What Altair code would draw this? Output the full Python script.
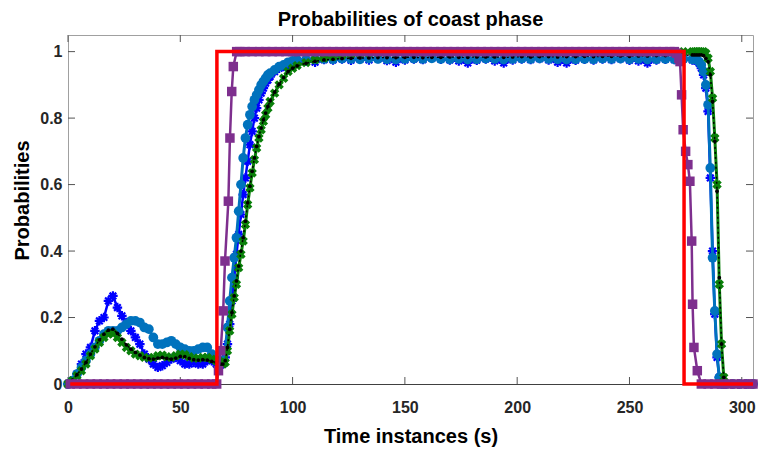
import altair as alt
import pandas as pd

# ---------------- data ----------------
TIME = [0, 2, 4, 6, 8, 10, 12, 14, 16, 18, 20, 22, 24, 26, 28, 30, 32, 34, 36, 38,
        40, 42, 44, 46, 48, 50, 52, 54, 56, 58, 60, 62, 64, 66,
        67, 68, 69, 70, 71, 72, 73, 74, 75, 76, 77, 78, 79, 80, 81, 82, 83, 84, 85, 86,
        87, 88, 89, 90, 92, 94, 96, 98, 100, 102,
        106, 110, 114, 118, 122, 126, 130, 134, 138, 142, 146, 150, 154, 158, 162, 166,
        170, 174, 178, 182, 186, 190, 194, 198, 202, 206, 210, 214, 218, 222, 226, 230,
        234, 238, 242, 246, 250, 254, 258, 262, 266, 270, 274, 278,
        279, 280, 281, 282, 283, 284, 285, 286, 287, 288, 289, 290, 291, 292, 293,
        296, 299, 302, 305]

BLUE = [0, 0.01, 0.03, 0.06, 0.09, 0.11, 0.16, 0.19, 0.20, 0.25,
        0.265, 0.23, 0.205, 0.185, 0.16, 0.14, 0.12, 0.09, 0.075, 0.06,
        0.05, 0.055, 0.065, 0.075, 0.08, 0.07, 0.06, 0.06, 0.065, 0.06,
        0.06, 0.07, 0.07, 0.06,
        0.06, 0.06, 0.06, 0.08, 0.12, 0.18, 0.25, 0.32, 0.39, 0.45,
        0.51, 0.57, 0.62, 0.67, 0.72, 0.76, 0.80, 0.83, 0.855, 0.875,
        0.89, 0.905, 0.915, 0.925, 0.94, 0.95, 0.955, 0.962, 0.966, 0.97,
        0.972, 0.968, 0.976, 0.975, 0.978, 0.974, 0.977, 0.975, 0.979, 0.973,
        0.968, 0.975, 0.978, 0.976, 0.98, 0.977, 0.975, 0.972, 0.966, 0.974,
        0.978, 0.972, 0.966, 0.975, 0.978, 0.976, 0.979, 0.975, 0.968, 0.966,
        0.974, 0.977, 0.975, 0.978, 0.976, 0.979, 0.974, 0.972, 0.966, 0.975,
        0.977, 0.976, 0.978, 0.975,
        0.975, 0.972, 0.965, 0.95, 0.93, 0.89, 0.82, 0.62, 0.40, 0.21, 0.08, 0.02, 0, 0, 0,
        0, 0, 0, 0]

LIGHTBLUE = [0, 0.01, 0.03, 0.05, 0.07, 0.09, 0.11, 0.13, 0.15, 0.16,
             0.16, 0.16, 0.17, 0.18, 0.19, 0.19, 0.185, 0.17, 0.165, 0.14,
             0.12, 0.12, 0.125, 0.13, 0.12, 0.11, 0.105, 0.10, 0.10, 0.105,
             0.11, 0.11, 0.09, 0.08,
             0.07, 0.065, 0.07, 0.10, 0.17, 0.25, 0.32, 0.38, 0.44, 0.52,
             0.60, 0.68, 0.74, 0.78, 0.81, 0.835, 0.855, 0.87, 0.885, 0.90,
             0.91, 0.92, 0.93, 0.935, 0.945, 0.955, 0.96, 0.968, 0.972, 0.975,
             0.976, 0.977, 0.978, 0.977, 0.979, 0.978, 0.977, 0.979, 0.978, 0.977,
             0.976, 0.978, 0.979, 0.978, 0.98, 0.978, 0.977, 0.978, 0.976, 0.977,
             0.979, 0.978, 0.976, 0.978, 0.979, 0.978, 0.98, 0.978, 0.977, 0.976,
             0.977, 0.978, 0.977, 0.979, 0.978, 0.979, 0.977, 0.978, 0.976, 0.977,
             0.978, 0.977, 0.978, 0.977,
             0.977, 0.975, 0.97, 0.96, 0.94, 0.90, 0.84, 0.65, 0.38, 0.22, 0.09, 0.02, 0, 0, 0,
             0, 0, 0, 0]

GREEN = [0, 0.01, 0.025, 0.04, 0.06, 0.085, 0.105, 0.125, 0.14, 0.15,
         0.152, 0.14, 0.125, 0.11, 0.10, 0.09, 0.085, 0.08, 0.078, 0.08,
         0.085, 0.087, 0.082, 0.08, 0.085, 0.09, 0.088, 0.082, 0.078, 0.078,
         0.08, 0.08, 0.075, 0.07,
         0.07, 0.065, 0.06, 0.065, 0.10, 0.16, 0.21, 0.26, 0.30, 0.35,
         0.39, 0.43, 0.48, 0.54, 0.59, 0.635, 0.675, 0.71, 0.74, 0.765,
         0.79, 0.81, 0.83, 0.85, 0.875, 0.90, 0.92, 0.94, 0.95, 0.958,
         0.967, 0.975, 0.981, 0.985, 0.989, 0.992, 0.994, 0.996, 0.997, 0.998,
         0.998, 0.998, 0.999, 0.998, 0.999, 0.999, 0.998, 0.999, 0.999, 0.998,
         0.999, 0.999, 1.0, 0.999, 0.999, 1.0, 0.999, 1.0, 0.999, 1.0,
         1.0, 0.999, 1.0, 1.0, 0.999, 1.0, 1.0, 1.0, 0.999, 1.0,
         1.0, 1.0, 1.0, 1.0,
         1.0, 1.0, 1.0, 1.0, 1.0, 0.995, 0.98, 0.94, 0.86, 0.74, 0.6, 0.3, 0.12, 0.02, 0,
         0, 0, 0, 0]

BLACK = [0, 0.012, 0.028, 0.045, 0.065, 0.09, 0.112, 0.133, 0.15, 0.162,
         0.165, 0.152, 0.135, 0.118, 0.105, 0.095, 0.087, 0.08, 0.076, 0.075,
         0.078, 0.08, 0.077, 0.075, 0.078, 0.083, 0.082, 0.077, 0.073, 0.072,
         0.073, 0.072, 0.068, 0.065,
         0.065, 0.06, 0.06, 0.07, 0.11, 0.165, 0.215, 0.265, 0.31, 0.355,
         0.40, 0.44, 0.49, 0.545, 0.595, 0.64, 0.68, 0.715, 0.745, 0.77,
         0.795, 0.815, 0.835, 0.852, 0.878, 0.902, 0.922, 0.94, 0.95, 0.957,
         0.965, 0.971, 0.975, 0.977, 0.979, 0.98, 0.981, 0.981, 0.982, 0.982,
         0.982, 0.983, 0.983, 0.982, 0.983, 0.983, 0.984, 0.983, 0.983, 0.984,
         0.984, 0.984, 0.983, 0.984, 0.985, 0.984, 0.985, 0.985, 0.984, 0.985,
         0.985, 0.986, 0.985, 0.986, 0.986, 0.987, 0.986, 0.987, 0.987, 0.988,
         0.988, 0.989, 0.989, 0.99,
         0.99, 0.99, 0.99, 0.99, 0.988, 0.98, 0.97, 0.93, 0.85, 0.73, 0.58, 0.32, 0.12, 0.02, 0,
         0, 0, 0, 0]

PURPLE_T = [1, 4, 7, 10, 13, 16, 19, 22, 25, 28, 31, 34, 37, 40, 43, 46, 49, 52, 55, 58, 61, 64,
            66.2, 67, 68, 69.1, 69.9, 71.4, 72.1, 72.9, 73.6, 75.1, 76.5,
            79, 82, 85, 88, 91, 94, 97, 100, 103, 106, 109, 112, 115, 118, 121, 124, 127, 130,
            133, 136, 139, 142, 145, 148, 151, 154, 157, 160, 163, 166, 169, 172, 175, 178,
            181, 184, 187, 190, 193, 196, 199, 202, 205, 208, 211, 214, 217, 220, 223, 226,
            229, 232, 235, 238, 241, 244, 247, 250, 253, 256, 259, 262, 265, 268,
            270, 271, 272, 272.5, 273.2, 273.9, 275, 276, 276.9, 277.7, 278.1, 278.7, 280.2, 282,
            285, 288, 291, 294, 297, 300, 303, 305]
PURPLE = [0, 0, 0, 0, 0, 0, 0, 0, 0, 0, 0, 0, 0, 0, 0, 0, 0, 0, 0, 0, 0, 0,
          0, 0.04, 0.1, 0.22, 0.37, 0.55, 0.74, 0.88, 0.955, 1.0, 1.0,
          1, 1, 1, 1, 1, 1, 1, 1, 1, 1, 1, 1, 1, 1, 1, 1, 1, 1,
          1, 1, 1, 1, 1, 1, 1, 1, 1, 1, 1, 1, 1, 1, 1, 1,
          1, 1, 1, 1, 1, 1, 1, 1, 1, 1, 1, 1, 1, 1, 1, 1,
          1, 1, 1, 1, 1, 1, 1, 1, 1, 1, 1, 1, 1, 1,
          1.0, 0.995, 0.98, 0.97, 0.87, 0.765, 0.7, 0.66, 0.61, 0.43, 0.24, 0.11, 0.04, 0.0,
          0, 0, 0, 0, 0, 0, 0, 0]

RED_T = [1, 66.3, 66.3, 274.3, 274.3, 305]
RED = [0, 0, 1, 1, 0, 0]

X_TICKS = [0, 50, 100, 150, 200, 250, 300]
Y_TICKS = [0, 0.2, 0.4, 0.6, 0.8, 1]

TITLE = "Probabilities of coast phase"
X_TITLE = "Time instances (s)"
Y_TITLE = "Probabilities"


def frame(t, p):
    n = min(len(t), len(p))
    return pd.DataFrame({"t": t[:n], "p": p[:n], "i": list(range(n))})


W, H = 685, 349
FONT = "Liberation Sans"
TICK = 7
TICK_COLOR = "#555555"

x_scale = alt.Scale(domain=[0, 305], nice=False, zero=False)
y_scale = alt.Scale(domain=[0, 1.05], nice=False, zero=False)

x_axis = alt.Axis(values=X_TICKS, title=X_TITLE, format="d",
                  labelFontSize=16, labelFontWeight="bold", labelColor="#262626",
                  labelPadding=28, labelBaseline="alphabetic", labelFlush=False,
                  tickSize=0, domainColor="#404040", grid=False,
                  titleFontSize=20, titleFontWeight="bold", titleColor="#000000",
                  titleY=58, titleBaseline="alphabetic")
y_axis = alt.Axis(values=Y_TICKS, title=Y_TITLE, format=".1~f",
                  labelFontSize=16, labelFontWeight="bold", labelColor="#262626",
                  labelPadding=6, labelFlush=False,
                  tickSize=0, domainColor="#a0a0a0", grid=False,
                  titleFontSize=20, titleFontWeight="bold", titleColor="#000000",
                  titleX=-40, titleY=165, titleAngle=270, titleBaseline="alphabetic")


def xenc():
    return alt.X("t:Q", scale=x_scale, axis=x_axis)


def yenc():
    return alt.Y("p:Q", scale=y_scale, axis=y_axis)


def series(t, p, color, sw, marker=None, size=60, filled=True, angle=0, mstroke=1.5,
           dash=None):
    df = frame(t, p)
    base = alt.Chart(df)
    lkw = dict(color=color, strokeWidth=sw, strokeJoin="miter")
    if dash:
        lkw["strokeDash"] = dash
    out = [base.mark_line(**lkw).encode(x=xenc(), y=yenc(), order="i:Q")]
    if marker is not None:
        kw = dict(shape=marker, size=size, filled=filled, color=color, opacity=1)
        if angle:
            kw["angle"] = angle
        if not filled:
            kw["strokeWidth"] = mstroke
        out.append(base.mark_point(**kw).encode(x=xenc(), y=yenc()))
    return out


ASTERISK = "M0,-1L0,1M-1,0L1,0M-0.7,-0.7L0.7,0.7M-0.7,0.7L0.7,-0.7"

# inward tick marks of the MATLAB-style box
xt = pd.DataFrame({"t": X_TICKS})
yt = pd.DataFrame({"p": Y_TICKS})
ticks = [
    alt.Chart(xt).mark_rule(color=TICK_COLOR, strokeWidth=1).encode(
        x=xenc(), y=alt.value(H), y2=alt.value(H - TICK)),
    alt.Chart(xt).mark_rule(color=TICK_COLOR, strokeWidth=1).encode(
        x=xenc(), y=alt.value(0), y2=alt.value(TICK)),
    alt.Chart(yt).mark_rule(color=TICK_COLOR, strokeWidth=1).encode(
        y=yenc(), x=alt.value(0), x2=alt.value(TICK)),
    alt.Chart(yt).mark_rule(color=TICK_COLOR, strokeWidth=1).encode(
        y=yenc(), x=alt.value(W - TICK), x2=alt.value(W)),
]

layers = list(ticks)
layers += series(TIME, BLUE, "#0000FF", 2.5, ASTERISK, 90, filled=False, mstroke=2.2)
layers += series(TIME, LIGHTBLUE, "#0072BD", 3, "circle", 95)
layers += series(TIME, GREEN, "#0A800A", 3, "cross", 90, angle=45)
layers += series(TIME, BLACK, "#000000", 1.5, "circle", 14, dash=[2, 3])
layers += series(PURPLE_T, PURPLE, "#7E2F8E", 2.5, "square", 90)
layers += series(RED_T, RED, "#FF0000", 3.5)

chart = alt.layer(*layers).properties(
    width=W, height=H,
    title=alt.TitleParams(TITLE, fontSize=20, fontWeight="bold", color="#000000",
                          anchor="middle", font=FONT, offset=5),
    autosize=alt.AutoSizeParams(type="none"),
    padding={"left": 68, "top": 35, "right": 6, "bottom": 66},
).configure(font=FONT, background="white").configure_view(
    stroke="#a0a0a0", strokeWidth=1
)

chart.save("out.html", embed_options={"renderer": "svg", "actions": False})
